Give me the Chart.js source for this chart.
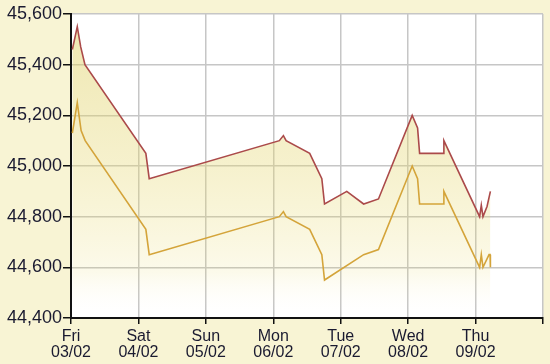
<!DOCTYPE html>
<html>
<head>
<meta charset="utf-8">
<script src="https://cdn.jsdelivr.net/npm/chart.js@4"></script>
<style>
  html, body { margin: 0; padding: 0; background: #f8f4d4; }
  #wrap { width: 550px; height: 364px; }
</style>
</head>
<body>
<div id="wrap"><canvas id="myChart" width="550" height="364"></canvas></div>
<script>
// axis labels
const dayLabels = [['Fri', '03/02'], ['Sat', '04/02'], ['Sun', '05/02'], ['Mon', '06/02'],
  ['Tue', '07/02'], ['Wed', '08/02'], ['Thu', '09/02'], ['', '']];
const yMin = 44400;
const yMax = 45600;
const yStep = 200;

// upper line (selling price), x in days from Fri 03/02
const upperDays = [0.02, 0.093, 0.144, 0.207, 1.11, 1.16, 3.09, 3.15, 3.19, 3.54, 3.72, 3.76,
  4.09, 4.34, 4.56, 5.06, 5.14, 5.17, 5.52, 5.53, 6.06, 6.085, 6.11, 6.17, 6.22];
const upperValues = [45460, 45550, 45470, 45400, 45050, 44950, 45100, 45120, 45100, 45050, 44950, 44850,
  44900, 44850, 44870, 45200, 45150, 45050, 45050, 45100, 44800, 44845, 44800, 44840, 44900];

// lower line (buying price)
const lowerDays = [0.02, 0.093, 0.15, 0.21, 1.11, 1.16, 3.09, 3.15, 3.19, 3.54, 3.72, 3.76,
  4.34, 4.56, 5.06, 5.14, 5.17, 5.52, 5.53, 6.06, 6.085, 6.11, 6.2, 6.215, 6.22];
const lowerValues = [45130, 45250, 45140, 45100, 44750, 44650, 44800, 44820, 44800, 44750, 44650, 44550,
  44650, 44670, 45000, 44950, 44850, 44850, 44900, 44600, 44650, 44600, 44650, 44650, 44600];

const toPoints = (xs, ys) => xs.map((x, i) => ({ x: x, y: ys[i] }));

// white plot area on the cream page
const plotBg = {
  id: 'plotBg',
  beforeDraw: (chart) => {
    const { ctx, chartArea } = chart;
    ctx.save();
    ctx.fillStyle = '#f8f4d4';
    ctx.fillRect(0, 0, chart.width, chart.height);
    ctx.fillStyle = '#ffffff';
    ctx.fillRect(chartArea.left, chartArea.top, chartArea.right - chartArea.left, chartArea.bottom - chartArea.top);
    ctx.restore();
  }
};

// see-through gradient so the grid stays visible under the band
function fillGradient(context) {
  const chart = context.chart;
  const area = chart.chartArea;
  if (!area) return 'rgba(229,215,112,0.35)';
  const g = chart.ctx.createLinearGradient(0, area.top, 0, area.bottom);
  g.addColorStop(0, 'rgba(221,205,95,0.5)');
  g.addColorStop(0.5, 'rgba(229,215,112,0.35)');
  g.addColorStop(0.85, 'rgba(230,213,88,0.12)');
  g.addColorStop(1, 'rgba(255,255,255,0)');
  return g;
}

const labelFont = { family: 'Liberation Sans, Arial, sans-serif' };

const config = {
  type: 'line',
  data: {
    datasets: [{
      label: 'upper',
      data: toPoints(upperDays, upperValues),
      borderColor: '#ab4a4a',
      borderWidth: 1.6,
      pointRadius: 0,
      tension: 0,
      fill: 'start',
      backgroundColor: fillGradient
    },
    {
      label: 'lower',
      data: toPoints(lowerDays, lowerValues),
      borderColor: '#d4a43a',
      borderWidth: 1.6,
      pointRadius: 0,
      tension: 0,
      fill: false
    }]
  },
  options: {
    responsive: false,
    animation: false,
    layout: { padding: { top: 14, right: 7, left: 0, bottom: 0 } },
    scales: {
      x: {
        type: 'linear',
        min: 0,
        max: dayLabels.length - 1,
        afterFit: (s) => { s.height = 46; },
        ticks: {
          stepSize: 1,
          autoSkip: false,
          maxRotation: 0,
          padding: 5,
          color: '#1a1a30',
          font: { ...labelFont, size: 16, lineHeight: 1.0 },
          callback: (value) => dayLabels[value] || ''
        },
        grid: { color: '#c6c6c6', lineWidth: 1.5, tickColor: '#111', tickLength: 6 },
        border: { color: '#111', width: 2 }
      },
      y: {
        min: yMin,
        max: yMax,
        afterFit: (s) => { s.width = 71; },
        ticks: {
          stepSize: yStep,
          padding: 1,
          color: '#1a1a30',
          font: { ...labelFont, size: 18 },
          callback: (value) => value.toLocaleString('en-US')
        },
        grid: { color: '#c6c6c6', lineWidth: 1.5, tickColor: '#111', tickLength: 8 },
        border: { color: '#111', width: 2 }
      }
    },
    plugins: {
      filler: { drawTime: 'beforeDatasetsDraw' },
      legend: { display: false },
      title: { display: false },
      tooltip: { enabled: false }
    }
  },
  plugins: [plotBg]
};

const myChart = new Chart(document.getElementById('myChart'), config);
</script>
</body>
</html>
